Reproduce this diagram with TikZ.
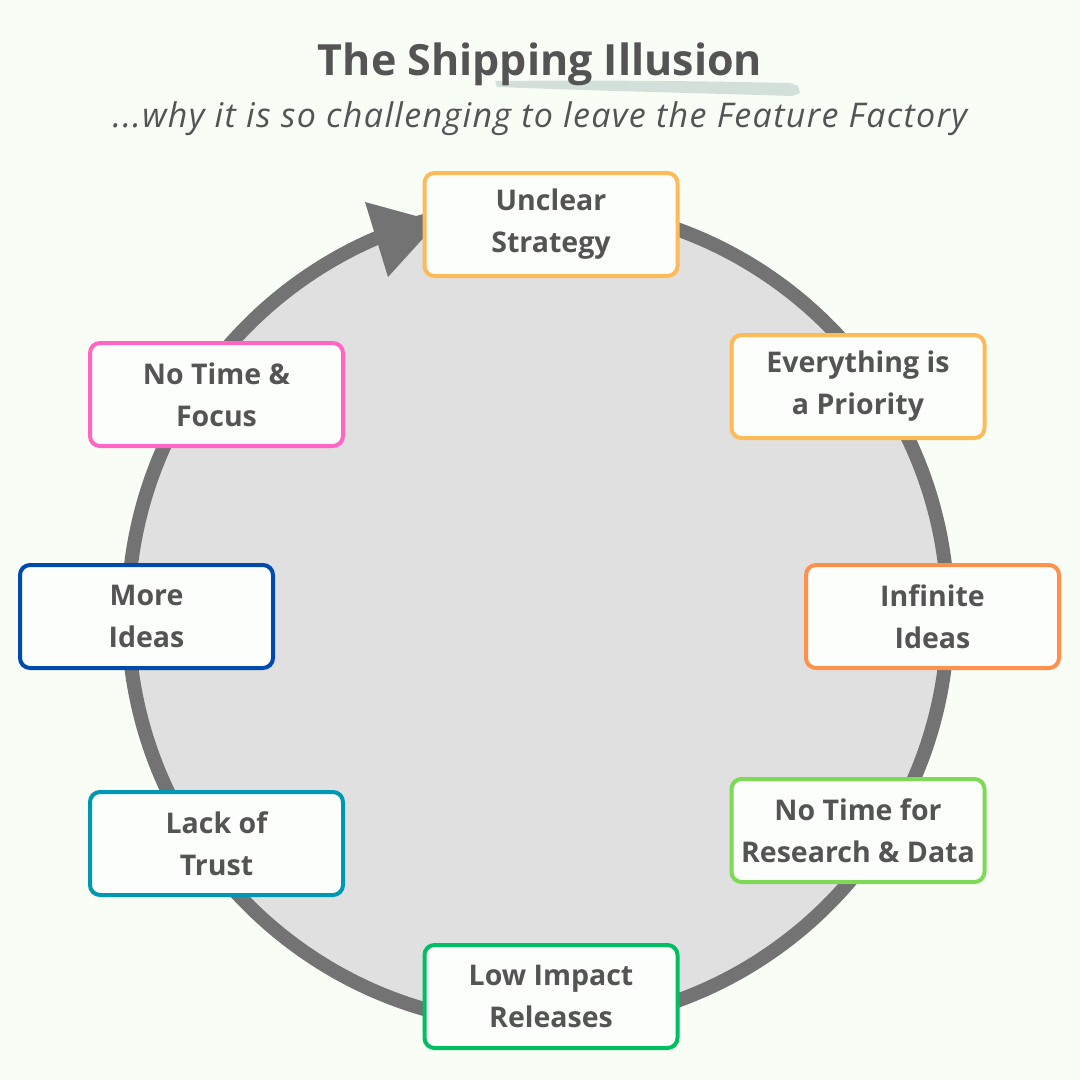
\documentclass[tikz,border=0pt]{standalone}
\usepackage{fontspec}
\setmainfont{Open Sans}
\definecolor{bg}{HTML}{F8FDF5}
\definecolor{boxfill}{HTML}{FBFEFA}
\definecolor{circfill}{HTML}{E0E0E0}
\definecolor{ring}{HTML}{737373}
\definecolor{txt}{HTML}{545454}
\definecolor{brush}{HTML}{D3E0D9}
\definecolor{cA}{HTML}{FDBA58}
\definecolor{cB}{HTML}{FDBA58}
\definecolor{cC}{HTML}{FF914D}
\definecolor{cD}{HTML}{7ED957}
\definecolor{cE}{HTML}{00BF63}
\definecolor{cF}{HTML}{0097B2}
\definecolor{cG}{HTML}{004AAD}
\definecolor{cH}{HTML}{FF66C4}
\tikzset{
  stepbox/.style={draw, line width=4pt, rounded corners=10pt, fill=boxfill,
    minimum width=253pt, minimum height=103pt, align=center, text=txt,
    font=\bfseries\fontsize{28.5}{42}\selectfont, inner sep=0pt},
  ringline/.style={draw=ring, line width=14pt}
}
\begin{document}
\begin{tikzpicture}[x=1pt,y=-1pt]
\fill[bg] (0,0) rectangle (1080,1080);
\useasboundingbox (0,0) rectangle (1080,1080);
% brush stroke
\fill[brush] (495,81) .. controls (600,80) and (700,81) .. (790,83) -- (798,86) -- (800,93) -- (792,96) .. controls (700,93) and (600,91) .. (497,87) -- cycle;
\node[text=txt, font=\bfseries\fontsize{43}{50}\selectfont] (title) at (540,64) {The Shipping Illusion};
\node[text=txt, font=\itshape\fontsize{34}{40}\addfontfeature{LetterSpace=4}\selectfont] (sub) at (540,119) {...why it is so challenging to leave the Feature Factory};
% cycle
\draw[ringline, fill=circfill] (538,615) circle[radius=410pt];
\coordinate (tip) at (438,222);
\coordinate (bl) at (365,202);
\coordinate (br) at (388,277);
\fill[ring] (tip) -- (bl) -- (br) -- cycle;
% boxes
\node[stepbox, draw=cA] (a) at (551,224.5) {Unclear\\Strategy};
\node[stepbox, draw=cB] (b) at (858,386.5) {Everything is\\a Priority};
\node[stepbox, draw=cC] (c) at (932.5,616.5) {Infinite\\Ideas};
\node[stepbox, draw=cD] (d) at (858,830.5) {No Time for\\Research \& Data};
\node[stepbox, draw=cE] (e) at (551,996.5) {Low Impact\\Releases};
\node[stepbox, draw=cF] (f) at (216.5,843.5) {Lack of\\Trust};
\node[stepbox, draw=cG] (g) at (146.5,616.5) {More\\Ideas};
\node[stepbox, draw=cH] (h) at (216.5,394.5) {No Time \&\\Focus};
\end{tikzpicture}
\end{document}
